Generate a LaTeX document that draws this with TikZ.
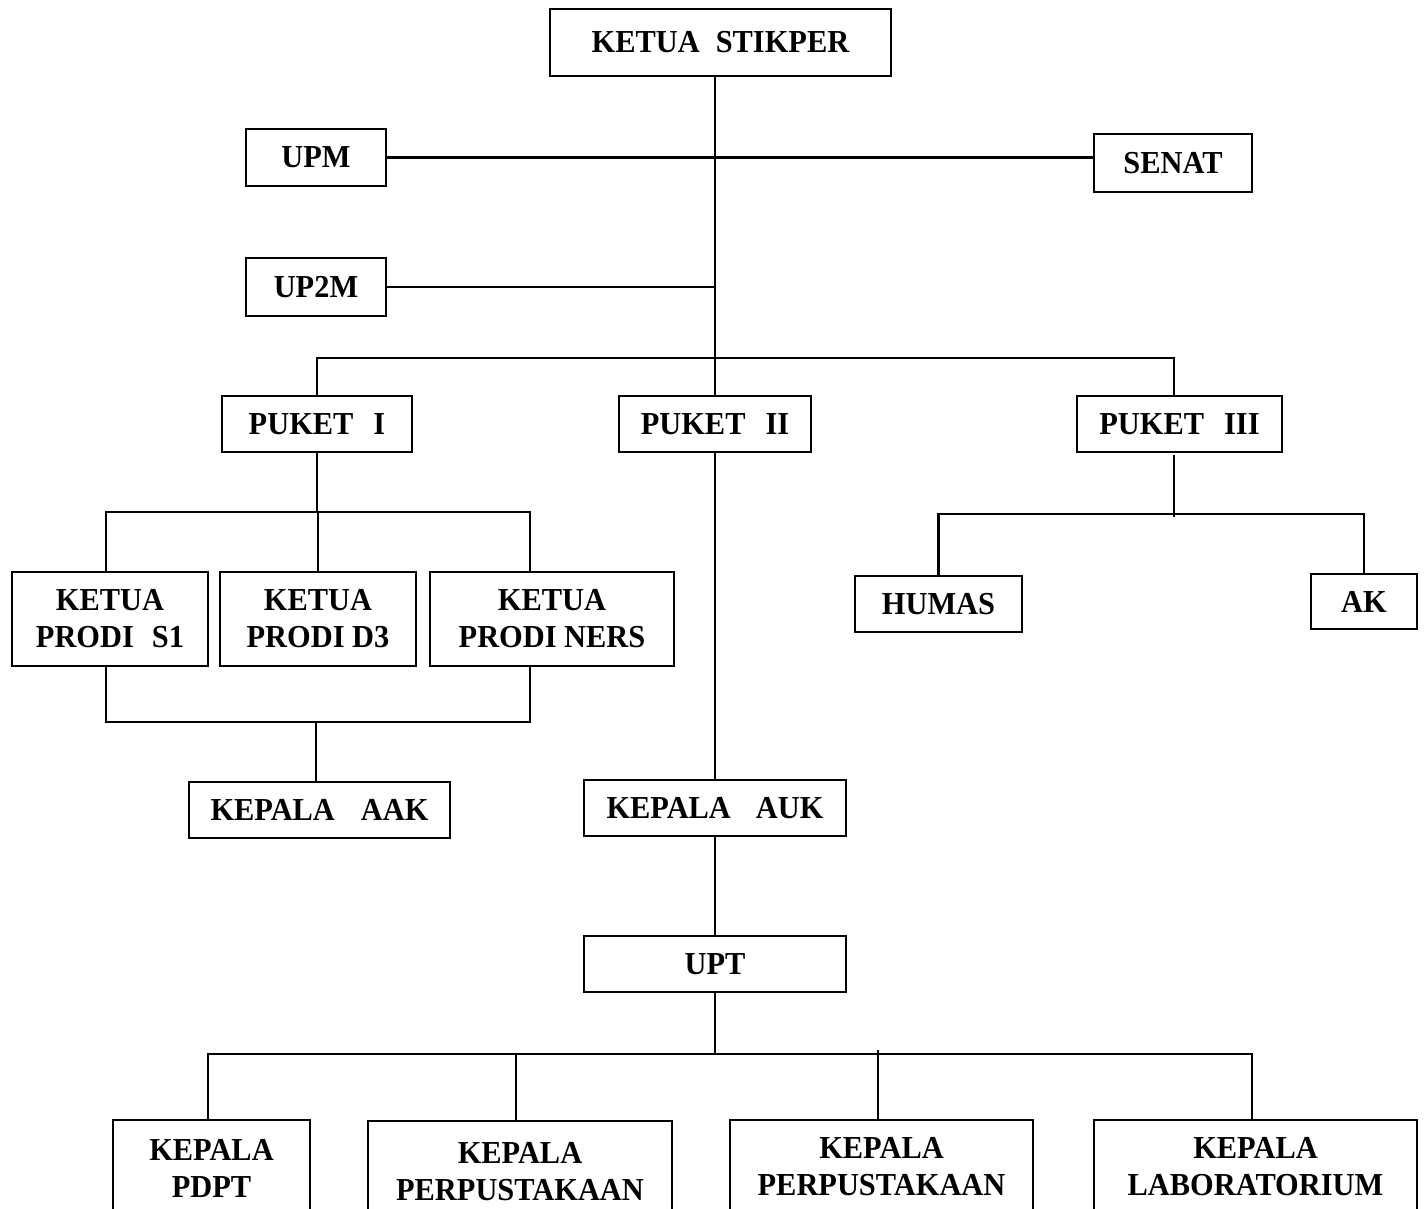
\documentclass[tikz,border=0pt]{standalone}
\usepackage{fontspec}
\setmainfont{Liberation Serif}[FakeStretch=0.95]
\newcommand\obox[6]{\node[obox, minimum width={(#4-#2)*0.5pt}, minimum height={(#5-#3)*0.5pt}] (#1) at ({(#2+#4)/2},{(#3+#5)/2}) {#6};}
\begin{document}
\begin{tikzpicture}[x=0.5pt,y=-0.5pt,
  obox/.style={draw, line width=1.4pt, inner sep=0pt, align=center,
    font=\fontsize{16pt}{18.5pt}\selectfont\bfseries},
  conn/.style={line width=1.1pt}]
\fill[white] (0,0) rectangle (1424,1209);
\clip (0,0) rectangle (1424,1209);

% boxes
\obox{top}{550}{9}{891}{76}{KETUA\hspace{8pt}STIKPER}
\obox{upm}{246}{129}{386}{186}{UPM}
\obox{senat}{1094}{134}{1252}{192}{SENAT}
\obox{up2m}{246}{258}{386}{316}{UP2M}
\obox{p1}{222}{396}{412}{452}{PUKET\hspace{10pt}I}
\obox{p2}{619}{396}{811}{452}{PUKET\hspace{10pt}II}
\obox{p3}{1077}{396}{1282}{452}{PUKET\hspace{10pt}III}
\obox{s1}{12}{572}{208}{666}{KETUA\\PRODI\hspace{9pt}S1}
\obox{d3}{220}{572}{416}{666}{KETUA\\PRODI D3}
\obox{ners}{430}{572}{674}{666}{KETUA\\PRODI NERS}
\obox{humas}{855}{576}{1022}{632}{HUMAS}
\obox{ak}{1311}{574}{1417}{629}{AK}
\obox{aak}{189}{782}{450}{838}{KEPALA\hspace{13pt}AAK}
\obox{auk}{584}{780}{846}{836}{KEPALA\hspace{12.5pt}AUK}
\obox{upt}{584}{936}{846}{992}{UPT}
\obox{pdpt}{113}{1120}{310}{1216}{KEPALA\\PDPT}
\obox{perp1}{368}{1121}{672}{1223}{KEPALA\\PERPUSTAKAAN}
\obox{perp2}{730}{1120}{1033}{1214}{KEPALA\\PERPUSTAKAAN}
\obox{lab}{1094}{1120}{1417}{1214}{KEPALA\\LABORATORIUM}

% junction coordinates
\coordinate (b1) at (716,358);
\coordinate (p3in) at (1174,396);
\coordinate (b2) at (316,512);
\coordinate (s1in) at (106,572);
\coordinate (nersin) at (530,572);
\coordinate (s1out) at (106,666);
\coordinate (nersout) at (530,666);
\coordinate (b3) at (316,722);
\coordinate (b4) at (716,1054);
\coordinate (pdptin) at (208,1120);
\coordinate (perp1in) at (516,1121);
\coordinate (perp2in) at (878,1120);
\coordinate (perp2top) at (878,1050);
\coordinate (labin) at (1252,1120);
\coordinate (p3out) at (1174,455);
\coordinate (p3tail) at (1174,517);
\coordinate (b5) at (1174,514);

% connectors
\draw[conn] (top.south -| p2.north) -- (p2.north);
\draw[conn] (upm.east) -- (senat.west |- upm.east);
\draw[conn] (up2m.east) -- (up2m.east -| p2.north);
\draw[conn] (p1.north) |- (b1) -| (p3in);

\draw[conn] (p1.south) -- (p1.south |- b2);
\draw[conn] (s1in) |- (b2) -| (nersin);
\draw[conn] (b2 -| d3.north) -- (d3.north);
\draw[conn] (s1out) |- (b3) -| (nersout);
\draw[conn] (b3) -- (b3 |- aak.north);

\draw[conn] (p2.south) -- (auk.north);
\draw[conn] (auk.south) -- (upt.north);
\draw[conn] (upt.south) -- (upt.south |- b4);
\draw[conn] (pdptin) |- (b4) -| (labin);
\draw[conn] (perp1in) -- (perp1in |- b4);
\draw[conn] (perp2in) -- (perp2top);

\draw[conn] (p3out) -- (p3tail);
\draw[conn] (humas.north) |- (b5) -| (ak.north);
\end{tikzpicture}
\end{document}
